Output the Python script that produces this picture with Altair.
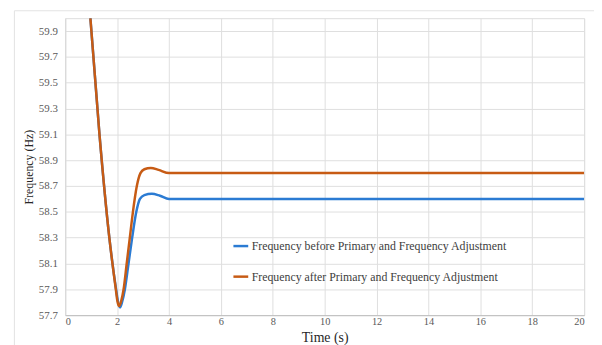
import altair as alt
import pandas as pd

# Series
before_label = "Frequency before Primary and Frequency Adjustment"
after_label = "Frequency after Primary and Frequency Adjustment"

before_t = [0.97, 1.32, 1.70, 1.96, 2.04, 2.11, 2.19, 2.30, 2.44, 2.58, 2.74, 2.88, 3.05, 3.34, 3.65, 4.0, 20.0]
before_f = [60.0, 59.1, 58.3, 57.9, 57.8, 57.76, 57.8, 57.9, 58.1, 58.3, 58.5, 58.6, 58.63, 58.64, 58.625, 58.6, 58.6]

after_t = [0.97, 1.32, 1.70, 1.95, 2.01, 2.08, 2.16, 2.25, 2.37, 2.49, 2.61, 2.76, 2.90, 3.05, 3.30, 3.60, 4.0, 20.0]
after_f = [60.0, 59.1, 58.3, 57.9, 57.81, 57.77, 57.81, 57.9, 58.1, 58.3, 58.5, 58.7, 58.8, 58.83, 58.84, 58.825, 58.8, 58.8]

y_ticks = [57.7, 57.9, 58.1, 58.3, 58.5, 58.7, 58.9, 59.1, 59.3, 59.5, 59.7, 59.9]
x_ticks = [0, 2, 4, 6, 8, 10, 12, 14, 16, 18, 20]

rows = []
for t, f in zip(before_t, before_f):
    rows.append({"t": t, "f": f, "series": before_label})
for t, f in zip(after_t, after_f):
    rows.append({"t": t, "f": f, "series": after_label})
df = pd.DataFrame(rows)

serif = "Liberation Serif, Times New Roman, serif"

frame = alt.Chart(pd.DataFrame({"a": [0]})).mark_rect(
    fill=None, stroke="#e3e3e3", strokeWidth=1
).encode(
    x=alt.value(-51.5), x2=alt.value(540), y=alt.value(-7.5), y2=alt.value(340)
)

lines = alt.Chart(df).mark_line(strokeWidth=2.5, interpolate="monotone", clip=True).encode(
    x=alt.X(
        "t:Q",
        scale=alt.Scale(domain=[0, 20], nice=False),
        axis=alt.Axis(
            values=x_ticks, title="Time (s)", format="d",
            titleFontSize=14, titleFont=serif, titleFontWeight="normal", titleColor="#262626",
            titleY=27, titleBaseline="alphabetic",
            labelFont=serif, labelFontSize=10.5, labelColor="#595959", labelPadding=2,
            ticks=False, domainColor="#bfbfbf", gridColor="#dedede",
        ),
    ),
    y=alt.Y(
        "f:Q",
        scale=alt.Scale(domain=[57.7, 60.0], nice=False, zero=False),
        axis=alt.Axis(
            values=y_ticks, title="Frequency (Hz)", format=".1f",
            titleFontSize=12, titleFont=serif, titleFontWeight="normal", titleColor="#262626",
            titlePadding=3,
            labelFont=serif, labelFontSize=11, labelColor="#595959", labelPadding=8,
            ticks=False, domainColor="#d9d9d9", gridColor="#dedede",
        ),
    ),
    color=alt.Color(
        "series:N",
        scale=alt.Scale(domain=[before_label, after_label], range=["#2b7bd3", "#c75b14"]),
        legend=alt.Legend(
            title=None, orient="none", legendX=169, legendY=222,
            symbolType="stroke", symbolSize=225, symbolStrokeWidth=2.5,
            labelFont=serif, labelFontSize=12, labelColor="#404040",
            labelOffset=2, rowPadding=16, padding=0, labelLimit=400,
        ),
    ),
    order=alt.Order("t:Q"),
)

chart = alt.layer(frame, lines).properties(
    width=526, height=301,
    padding={"left": 58, "top": 8, "right": 10, "bottom": 30},
    autosize=alt.AutoSizeParams(type="none"),
    background="white",
).configure_view(stroke=None).configure(font=serif)

chart.save("out.html", embed_options={"renderer": "svg", "actions": False})
